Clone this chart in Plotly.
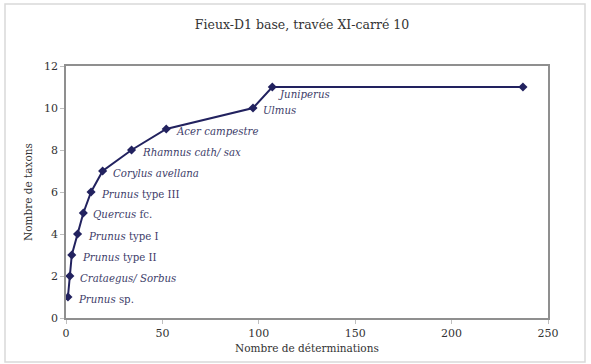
import plotly.graph_objects as go

# ---- data ----
determinations = [1, 2, 3, 6, 9, 13, 19, 34, 52, 97, 107, 237]
taxa = [1, 2, 3, 4, 5, 6, 7, 8, 9, 10, 11, 11]
labels = [
    "<i>Prunus</i> sp.",
    "<i>Crataegus/ Sorbus</i>",
    "<i>Prunus</i> type II",
    "<i>Prunus</i> type I",
    "<i>Quercus</i> fc.",
    "<i>Prunus</i> type III",
    "<i>Corylus avellana</i>",
    "<i>Rhamnus cath/ sax</i>",
    "<i>Acer campestre</i>",
    "<i>Ulmus</i>",
    "<i>Juniperus</i>",
    "",
]
x_ticks = [0, 50, 100, 150, 200, 250]
y_ticks = [0, 2, 4, 6, 8, 10, 12]

title = "Fieux-D1 base, travée XI-carré 10"
x_title = "Nombre de déterminations"
y_title = "Nombre de taxons"

W, H = 591, 364
L, R, T, B = 66, 43, 66, 46
pw, ph = W - L - R, H - T - B

navy = "#22225f"
label_col = "#40406a"
serif = "DejaVu Serif"

fig = go.Figure()
fig.add_trace(go.Scatter(
    x=determinations, y=taxa, mode="lines+markers",
    line=dict(color=navy, width=2),
    marker=dict(symbol="diamond", size=7, color=navy),
    hoverinfo="x+y", showlegend=False,
))

for xv, yv, lab in zip(determinations, taxa, labels):
    if not lab:
        continue
    xs, ys = 8, -2
    if "Juniperus" in lab:
        xs, ys = 4, -7
    fig.add_annotation(
        x=xv, y=yv, text=lab, showarrow=False, xanchor="left", yanchor="middle",
        xshift=xs, yshift=ys, font=dict(family=serif, size=10.2, color=label_col),
    )

fig.add_annotation(
    xref="paper", yref="paper", x=0.5, y=-(348 - (H - B)) / ph,
    text=x_title, showarrow=False, xanchor="center", yanchor="middle",
    font=dict(family=serif, size=10.5, color="#333333"),
)
fig.add_annotation(
    xref="paper", yref="paper", x=(28 - L) / pw, y=0.5,
    text=y_title, showarrow=False, textangle=-90, xanchor="center", yanchor="middle",
    font=dict(family=serif, size=10.5, color="#333333"),
)

# outer chart border
fig.add_shape(
    type="rect", xref="paper", yref="paper",
    x0=(5 - L) / pw, x1=(585 - L) / pw,
    y0=-(362 - (H - B)) / ph, y1=1 + (T - 4) / ph,
    line=dict(color="#d9d9d9", width=1.5), layer="below",
)

axis_common = dict(
    showline=True, mirror=True, linecolor="#8f8f8f", linewidth=1.5,
    showgrid=False, zeroline=False, ticks="outside", ticklen=4,
    tickcolor="#bfbfbf", tickfont=dict(family=serif, size=11, color="#333333"),
)

fig.update_layout(
    width=W, height=H,
    margin=dict(l=L, r=R, t=T, b=B),
    paper_bgcolor="white", plot_bgcolor="white",
    title=dict(text=title, x=302 / W, xanchor="center", y=1 - 25 / H, yanchor="middle",
               font=dict(family=serif, size=12.5, color="#333333")),
    xaxis=dict(range=[0, 250], tickvals=x_ticks, **axis_common),
    yaxis=dict(range=[0, 12], tickvals=y_ticks, **axis_common),
)

fig.write_html(
    "out.html",
    config={"displayModeBar": False},
    post_script="document.body.style.margin='0';document.body.style.overflow='hidden';",
)
